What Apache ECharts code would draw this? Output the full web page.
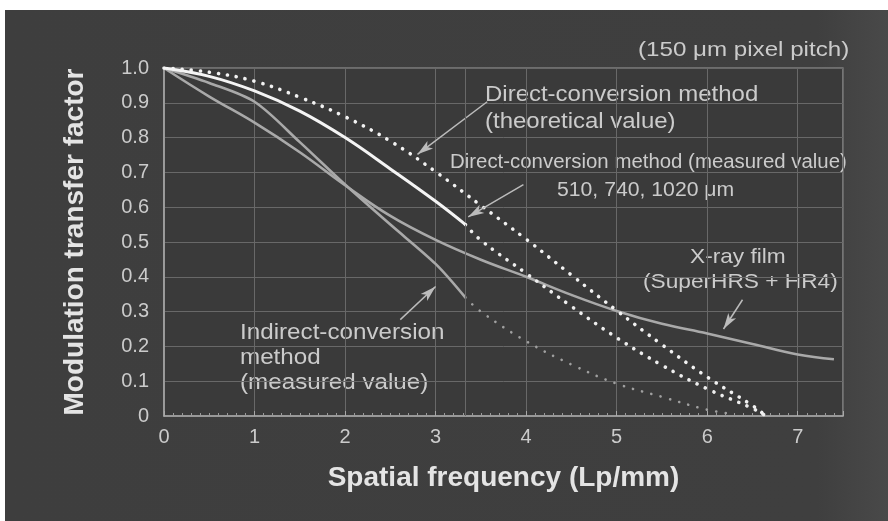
<!DOCTYPE html>
<html>
<head>
<meta charset="utf-8">
<script src="https://cdn.jsdelivr.net/npm/echarts@6/dist/echarts.min.js"></script>
<style>
  html, body { margin: 0; padding: 0; background: #fff; }
  #chart {
    width: 888px; height: 521px;
    background:
      linear-gradient(to right, #3e3e3e 0%, #3f3f3f 92%, #494949 100%) 5px 10px / 883px 511px no-repeat,
      #fff;
  }
</style>
</head>
<body>
<div id="chart"></div>
<script>
// MTF curves: spatial frequency (Lp/mm) vs modulation transfer factor
const freqTheoretical = [0, 0.5, 1, 1.5, 2, 2.5, 3, 3.5, 4, 4.5, 5, 5.5, 6, 6.5, 6.65];
const mtfTheoretical  = [1.0, 0.988, 0.962, 0.916, 0.860, 0.790, 0.702, 0.605, 0.508, 0.405, 0.303, 0.205, 0.112, 0.030, 0.0];

const freqDirect = [0, 0.5, 1, 1.5, 2, 2.5, 3, 3.33];
const mtfDirect  = [1.0, 0.976, 0.934, 0.876, 0.800, 0.710, 0.617, 0.550];

const freqDirectExt = [3.33, 3.5, 4, 4.5, 5, 5.5, 6, 6.5, 6.65];
const mtfDirectExt  = [0.550, 0.505, 0.410, 0.315, 0.225, 0.146, 0.078, 0.022, 0.0];

const freqFilm = [0, 0.5, 1, 1.5, 2, 2.5, 3, 3.5, 4, 4.5, 5, 5.5, 6, 6.5, 7, 7.4];
const mtfFilm  = [1.0, 0.918, 0.843, 0.758, 0.663, 0.575, 0.506, 0.449, 0.400, 0.348, 0.302, 0.265, 0.237, 0.207, 0.177, 0.163];

const freqIndirect = [0, 0.5, 1, 1.5, 2, 2.5, 3, 3.33];
const mtfIndirect  = [1.0, 0.957, 0.903, 0.787, 0.665, 0.550, 0.437, 0.340];

const freqIndirectExt = [3.33, 3.5, 4, 4.5, 5, 5.5, 6, 6.3];
const mtfIndirectExt  = [0.340, 0.300, 0.215, 0.148, 0.093, 0.055, 0.018, 0.005];

const xTickLabels = ['0', '1', '2', '3', '4', '5', '6', '7'];
const yTickLabels = ['0', '0.1', '0.2', '0.3', '0.4', '0.5', '0.6', '0.7', '0.8', '0.9', '1.0'];
const nyquistFreq = 3.33;

const pairs = (xs, ys) => xs.map((x, i) => [x, ys[i]]);

const FONT = '"Liberation Sans", Arial, Helvetica, sans-serif';
const TEXT = '#cbcbcb';
const GRID = '#686868';
const ARROW = '#bcbcbc';

const chart = echarts.init(document.getElementById('chart'), null, { renderer: 'canvas' });

function arrow(from, to) {
  return [{ coord: from, symbol: 'none' }, { coord: to, symbol: 'arrow' }];
}

// annotation text, slightly widened to the lettering of the print
function note(text, x, y, size, sx, align) {
  return {
    type: 'text', x, y, scaleX: sx, originX: 0, originY: 0,
    style: { text, fill: TEXT, font: `${size}px ${FONT}`, textAlign: align || 'left', textVerticalAlign: 'middle' }
  };
}

const option = {
  backgroundColor: 'transparent',
  animation: false,
  textStyle: { fontFamily: FONT },
  grid: {
    left: 164, top: 68, right: 45, bottom: 105,
    show: true, backgroundColor: '#3a3a3a', borderColor: '#9c9c9c', borderWidth: 1.2
  },
  xAxis: {
    type: 'value', min: 0, max: 7.5, interval: 1,
    name: 'Spatial frequency (Lp/mm)', nameLocation: 'middle', nameGap: 48,
    nameTextStyle: { fontSize: 28, fontWeight: 'bold', color: '#e4e4e4', fontFamily: FONT },
    axisLine: { show: true, lineStyle: { color: '#a8a8a8', width: 1.5 } },
    axisTick: { show: true, inside: true, length: 5, lineStyle: { color: '#a8a8a8' } },
    minorTick: { show: true, splitNumber: 10, length: 3, lineStyle: { color: '#9a9a9a' } },
    axisLabel: {
      color: TEXT, fontSize: 20, margin: 11, showMaxLabel: false,
      formatter: v => xTickLabels[Math.round(v)] ?? ''
    },
    splitLine: { show: true, lineStyle: { color: GRID, width: 1 } }
  },
  yAxis: {
    type: 'value', min: 0, max: 1, interval: 0.1,
    name: 'Modulation transfer factor', nameLocation: 'middle', nameGap: 75,
    nameTextStyle: { fontSize: 28, fontWeight: 'bold', color: '#e4e4e4', fontFamily: FONT },
    axisLine: { show: true, lineStyle: { color: '#a8a8a8', width: 1.5 } },
    axisTick: { show: false },
    axisLabel: {
      color: TEXT, fontSize: 20, margin: 15,
      formatter: v => yTickLabels[Math.round(v * 10)] ?? ''
    },
    splitLine: { show: true, lineStyle: { color: GRID, width: 1 } }
  },
  series: [
    {
      name: 'Direct-conversion (theoretical)', type: 'line', data: pairs(freqTheoretical, mtfTheoretical),
      smooth: 0.4, showSymbol: false, z: 4,
      lineStyle: { color: '#f2f2f2', width: 3.6, type: [0.1, 9], cap: 'round' }
    },
    {
      name: 'Direct-conversion (measured)', type: 'line', data: pairs(freqDirect, mtfDirect),
      smooth: 0.4, showSymbol: false, z: 5,
      lineStyle: { color: '#f4f4f4', width: 3 }
    },
    {
      name: 'Direct-conversion (measured, extended)', type: 'line', data: pairs(freqDirectExt, mtfDirectExt),
      smooth: 0.4, showSymbol: false, z: 4,
      lineStyle: { color: '#eeeeee', width: 3.6, type: [0.1, 9], cap: 'round' }
    },
    {
      name: 'X-ray film', type: 'line', data: pairs(freqFilm, mtfFilm),
      smooth: 0.4, showSymbol: false, z: 3,
      lineStyle: { color: '#a9a9a9', width: 2.6 },
      markLine: {
        silent: true, animation: false,
        symbolSize: [7, 16],
        label: { show: false },
        lineStyle: { color: ARROW, width: 1.5, type: 'solid' },
        data: [
          arrow([3.57, 0.903], [2.80, 0.752]),
          arrow([3.97, 0.665], [3.36, 0.572]),
          arrow([6.39, 0.334], [6.18, 0.250]),
          arrow([2.61, 0.277], [3.00, 0.372])
        ]
      }
    },
    {
      name: 'Indirect-conversion (measured)', type: 'line', data: pairs(freqIndirect, mtfIndirect),
      smooth: 0.3, showSymbol: false, z: 3,
      lineStyle: { color: '#a9a9a9', width: 2.6 },
      markLine: {
        silent: true, animation: false, symbol: 'none',
        label: { show: false },
        lineStyle: { color: GRID, width: 1, type: 'solid' },
        data: [{ xAxis: nyquistFreq }]
      }
    },
    {
      name: 'Indirect-conversion (measured, extended)', type: 'line', data: pairs(freqIndirectExt, mtfIndirectExt),
      smooth: 0.4, showSymbol: false, z: 3,
      lineStyle: { color: '#a0a0a0', width: 2.6, type: [0.1, 9.5], cap: 'round' }
    }
  ],
  graphic: [
    note('(150 \u03bcm pixel pitch)', 638, 50, 21, 1.15),
    note('Direct-conversion method', 485, 95, 22, 1.09),
    note('(theoretical value)', 485, 122, 22, 1.09),
    note('Direct-conversion method (measured value)', 450, 162, 20, 1.02),
    note('510, 740, 1020 \u03bcm', 557, 190, 20, 1.06),
    note('X-ray film', 690, 257, 21, 1.08),
    note('(SuperHRS + HR4)', 643, 282, 21, 1.08),
    note('Indirect-conversion', 240, 333, 22, 1.10),
    note('method', 240, 358, 22, 1.10),
    note('(measured value)', 240, 383, 22, 1.10)
  ]
};

chart.setOption(option);
</script>
</body>
</html>
